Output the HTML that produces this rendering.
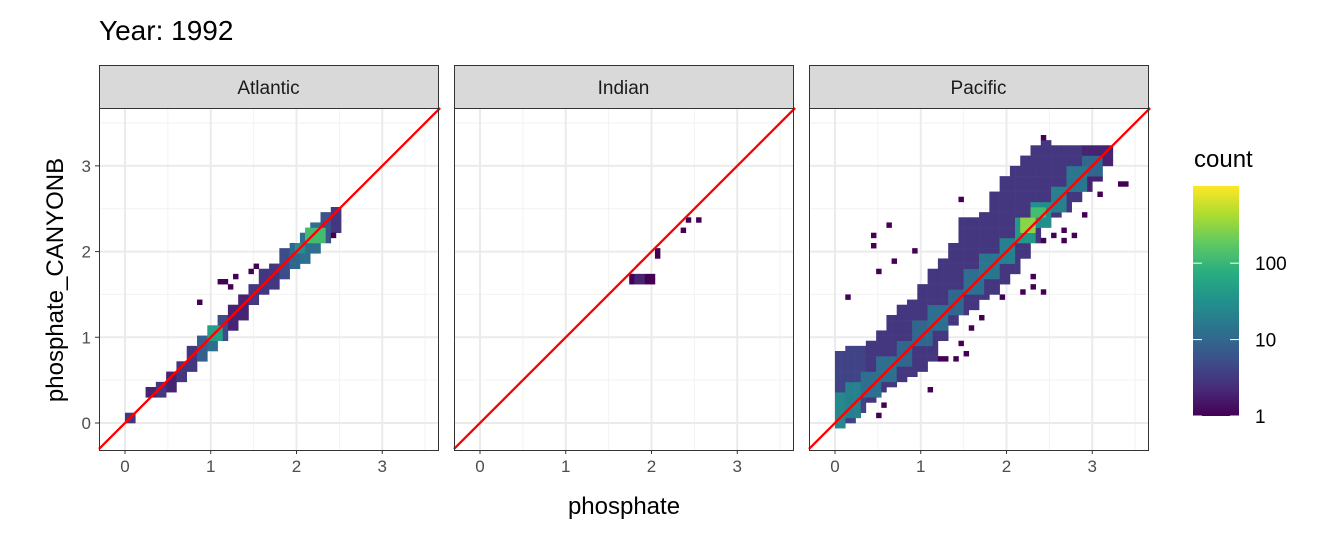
<!DOCTYPE html>
<html><head><meta charset="utf-8"><style>
body{margin:0;background:#fff;width:1344px;height:537px;overflow:hidden}
svg{font-family:"Liberation Sans",sans-serif}
</style></head><body>
<svg id="chart" width="1344" height="537" viewBox="0 0 1344 537" xmlns="http://www.w3.org/2000/svg">
<defs>
<linearGradient id="vir" x1="0" y1="1" x2="0" y2="0">
<stop offset="0" stop-color="#440154"/><stop offset="0.125" stop-color="#472d7b"/><stop offset="0.25" stop-color="#3b528b"/><stop offset="0.375" stop-color="#2c728e"/><stop offset="0.5" stop-color="#21918c"/><stop offset="0.625" stop-color="#28ae80"/><stop offset="0.75" stop-color="#5ec962"/><stop offset="0.875" stop-color="#addc30"/><stop offset="1" stop-color="#fde725"/>
</linearGradient>
</defs>
<text x="99" y="40" font-size="28" fill="#000">Year: 1992</text>
<g id="panels"></g>
<text x="624" y="514" font-size="24" text-anchor="middle">phosphate</text>
<text transform="translate(63,280) rotate(-90)" font-size="24" text-anchor="middle">phosphate_CANYONB</text>
<g>
<text x="1194" y="167" font-size="24">count</text>
<rect x="1193" y="186" width="46" height="230" fill="url(#vir)"/>
<g id="cbticks"></g>
</g>
</svg>
<script>
const facets = ["Atlantic","Indian","Pacific"];
const xTicks = [0,1,2,3];
const yTicks = [0,1,2,3];
const legendTicks = [1,10,100];
// column spans (width 0.12): [x, yLow, yHigh, count]
const atlanticCols = [
 [0.0,0.05,0.12,3],[0.24,0.3,0.42,2],[0.36,0.33,0.48,3],[0.48,0.4,0.6,2],[0.6,0.5,0.72,3],
 [0.72,0.62,0.85,3],[0.84,0.75,0.97,8],[0.96,0.85,1.12,12],[1.08,0.98,1.25,5],[1.2,1.1,1.38,2],
 [1.32,1.22,1.5,2],[1.44,1.38,1.62,3],[1.56,1.5,1.75,3],[1.68,1.6,1.85,3],[1.8,1.68,2.0,5],
 [1.92,1.8,2.1,10],[2.04,1.9,2.2,12],[2.16,2.0,2.32,12],[2.28,2.15,2.42,6],[2.4,2.25,2.48,3]
];
// blocks: [x0, x1, y0, y1, count]
const atlanticBlocks = [[0.96,1.1,0.98,1.1,50],[2.1,2.3,2.12,2.25,120],[1.95,2.1,1.98,2.1,30]];
const atlanticPoints = [[0.86,1.41],[1.1,1.63],[1.18,1.65],[1.3,1.69],[1.47,1.76],[1.24,1.58],[1.5,1.85],[2.5,2.5],[2.45,2.2],[2.4,2.25]];
const indianCols = [];
const indianBlocks = [[1.73,2.03,1.62,1.74,1],[1.78,1.9,1.66,1.72,2]];
const indianPoints = [[2.04,2.02],[2.37,2.22],[2.42,2.35],[2.53,2.37],[2.04,1.95]];
const pacificCols = [
 [0.0,-0.06,0.8,4],[0.12,0.05,0.85,4],[0.24,0.12,0.88,4],[0.36,0.25,0.95,3],[0.48,0.37,1.05,3],
 [0.6,0.45,1.25,3],[0.72,0.5,1.36,3],[0.84,0.55,1.42,3],[0.96,0.65,1.6,3],[1.08,0.74,1.8,3],
 [1.2,1.0,1.9,3],[1.32,1.18,2.1,3],[1.44,1.26,2.4,3],[1.56,1.35,2.4,3],[1.68,1.45,2.45,3],
 [1.8,1.55,2.7,3],[1.92,1.65,2.85,3],[2.04,1.77,3.0,3],[2.16,1.95,3.1,3],[2.28,2.1,3.2,3],
 [2.4,2.28,3.25,3],[2.52,2.4,3.23,3],[2.64,2.48,3.23,3],[2.76,2.6,3.23,3],[2.88,2.72,3.23,2],
 [3.0,2.86,3.23,2],[3.12,3.0,3.2,2]
];
const pacificBlocks = [
 [0,0.12,-0.02,0.35,25],[0.12,0.3,0.1,0.45,20],[0.3,0.5,0.3,0.55,12],[0.5,0.7,0.5,0.75,12],
 [0.7,0.9,0.7,0.95,10],[0.9,1.1,0.9,1.15,10],[1.1,1.3,1.1,1.35,12],[1.3,1.5,1.3,1.55,10],
 [1.5,1.7,1.5,1.75,12],[1.7,1.9,1.7,1.95,15],[1.9,2.1,1.9,2.15,20],[2.1,2.3,2.1,2.35,40],
 [2.3,2.5,2.3,2.55,30],[2.5,2.7,2.5,2.75,20],[2.7,2.9,2.7,2.95,15],[2.9,3.1,2.9,3.1,10],
 [2.15,2.3,2.25,2.4,300],[2.3,2.45,2.4,2.52,120]
];
const pacificPoints = [[0.14,1.47],[0.43,2.18],[0.43,2.08],[0.63,2.31],[0.69,1.89],[0.5,1.77],[0.92,2.0],
 [1.48,2.61],[2.43,3.34],[3.34,2.79],[3.4,2.79],[3.06,2.67],[2.9,2.43],[2.55,2.2],[2.67,2.24],[2.79,2.2],
 [2.43,2.14],[2.67,2.14],[2.31,1.7],[2.31,1.59],[2.19,1.53],[2.43,1.53],[1.59,1.11],[1.47,0.92],[1.53,0.8],
 [1.39,0.76],[1.25,0.76],[1.31,0.76],[0.5,0.08],[0.57,0.21],[0.44,0.27],[1.7,1.22],[1.95,1.47],[1.1,0.4],[0.8,0.6]];
const colsByFacet = [atlanticCols, indianCols, pacificCols];
const blocksByFacet = [atlanticBlocks, indianBlocks, pacificBlocks];
const pointsByFacet = [atlanticPoints, indianPoints, pacificPoints];

const NS="http://www.w3.org/2000/svg";
const panelLeft=[99,454,809], panelW=339, panelTop=108, panelH=342, stripTop=65;
const xmin=-0.303, xmax=3.65, ymin=-0.315, ymax=3.675, bin=0.06, maxLog=3.01;
function xs(p,v){return panelLeft[p]+(v-xmin)/(xmax-xmin)*panelW;}
function ys(v){return panelTop+panelH-(v-ymin)/(ymax-ymin)*panelH;}
const vir=["#440154","#472d7b","#3b528b","#2c728e","#21918c","#28ae80","#5ec962","#addc30","#fde725"];
function hex(h){return [1,3,5].map(i=>parseInt(h.substr(i,2),16));}
function color(c){let t=Math.min(1,Math.log10(c)/maxLog)*8;let i=Math.min(7,Math.floor(t)),f=t-i;
 const a=hex(vir[i]),b=hex(vir[i+1]);return "rgb("+a.map((v,k)=>Math.round(v+(b[k]-v)*f)).join(",")+")";}
function mk(tag,attrs,parent){const e=document.createElementNS(NS,tag);for(const k in attrs)e.setAttribute(k,attrs[k]);parent.appendChild(e);return e;}
const root=document.getElementById("panels");
facets.forEach((name,p)=>{
 const g=mk("g",{},root);
 
 
 const L=panelLeft[p];
 const strip=mk("rect",{x:L+0.5,y:stripTop+0.5,width:panelW,height:panelTop-stripTop,fill:"#d9d9d9",stroke:"#333","stroke-width":1},g);
 
 
 const st=mk("text",{x:L+panelW/2,y:stripTop+29,"font-size":19,"text-anchor":"middle",fill:"#1a1a1a"},g);
 st.textContent=name;
 
 
 mk("rect",{x:L,y:panelTop,width:panelW,height:panelH,fill:"#fff"},g);
 for(let v=-0.5;v<=3.5;v+=1){ if(v>xmin&&v<xmax) mk("line",{x1:xs(p,v),x2:xs(p,v),y1:panelTop,y2:panelTop+panelH,stroke:"#f2f2f2","stroke-width":1},g);
  if(v>ymin&&v<ymax) mk("line",{x1:L,x2:L+panelW,y1:ys(v),y2:ys(v),stroke:"#f2f2f2","stroke-width":1},g);}
 xTicks.forEach(v=>mk("line",{x1:xs(p,v),x2:xs(p,v),y1:panelTop,y2:panelTop+panelH,stroke:"#ebebeb","stroke-width":2},g));
 yTicks.forEach(v=>mk("line",{x1:L,x2:L+panelW,y1:ys(v),y2:ys(v),stroke:"#ebebeb","stroke-width":2},g));
 const cells=new Map();
 function addBlock(x0,x1,y0,y1,c){
  for(let i=Math.round(x0/bin);i*bin<x1-1e-9;i++)for(let j=Math.floor(y0/bin);j*bin<y1-1e-9;j++){
   const k=i+","+j;cells.set(k,Math.max(cells.get(k)||0,c));}}
 colsByFacet[p].forEach(c=>addBlock(c[0],c[0]+0.12,c[1],c[2],c[3]));
 blocksByFacet[p].forEach(b=>addBlock(b[0],b[1],b[2],b[3],b[4]));
 pointsByFacet[p].forEach(pt=>{const k=Math.floor(pt[0]/bin)+","+Math.floor(pt[1]/bin);cells.set(k,Math.max(cells.get(k)||0,1));});
 cells.forEach((c,k)=>{const [i,j]=k.split(",").map(Number);
  const r=mk("rect",{x:xs(p,i*bin),y:ys((j+1)*bin),width:xs(p,(i+1)*bin)-xs(p,i*bin)+0.3,height:ys(j*bin)-ys((j+1)*bin)+0.3,fill:color(c)},g);
  
  });
 const ln=mk("line",{x1:xs(p,xmin),y1:ys(xmin),x2:xs(p,ymax),y2:ys(ymax),stroke:"#ff0000","stroke-width":2.3},g);
 
 
 mk("rect",{x:L+0.5,y:panelTop+0.5,width:panelW,height:panelH,fill:"none",stroke:"#333","stroke-width":1},g);
 xTicks.forEach(v=>{mk("line",{x1:xs(p,v),x2:xs(p,v),y1:panelTop+panelH,y2:panelTop+panelH+4,stroke:"#333"},g);
  const t=mk("text",{x:xs(p,v),y:panelTop+panelH+22,"font-size":17,"text-anchor":"middle",fill:"#4d4d4d"},g);t.textContent=v;
  
  });
 if(p===0) yTicks.forEach(v=>{mk("line",{x1:L-4,x2:L,y1:ys(v),y2:ys(v),stroke:"#333"},g);
  const t=mk("text",{x:L-8,y:ys(v)+6,"font-size":17,"text-anchor":"end",fill:"#4d4d4d"},g);t.textContent=v;
  
  });
});
const cb=document.getElementById("cbticks");
legendTicks.forEach(v=>{const y=416-Math.log10(v)/maxLog*230;
 mk("line",{x1:1193,x2:1202,y1:y,y2:y,stroke:"#fff","stroke-width":1},cb);
 mk("line",{x1:1230,x2:1239,y1:y,y2:y,stroke:"#fff","stroke-width":1},cb);
 const t=mk("text",{x:1255,y:y+7,"font-size":19,fill:"#000"},cb);t.textContent=v;
 
 });
</script>
</body></html>
